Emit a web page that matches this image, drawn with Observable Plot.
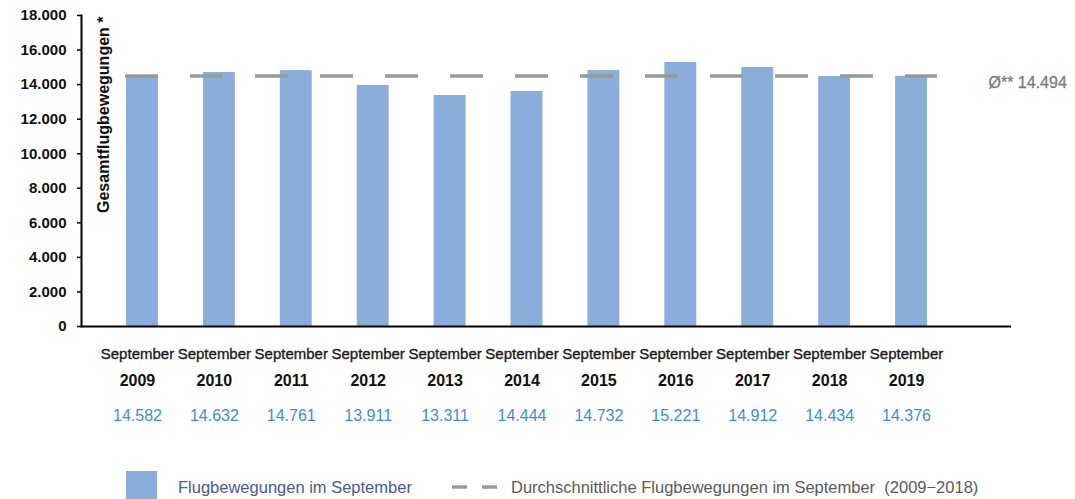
<!DOCTYPE html>
<html>
<head>
<meta charset="utf-8">
<script src="https://cdn.jsdelivr.net/npm/d3@7"></script>
<script src="https://cdn.jsdelivr.net/npm/@observablehq/plot@0.6"></script>
<style>
  html, body { margin: 0; padding: 0; background: #fff; }
  #chart { position: relative; width: 1075px; height: 499px; font-family: "Liberation Sans", Arial, sans-serif; }
  .legend { position: absolute; left: 0; top: 460px; width: 1075px; height: 39px; }
  .legend span { position: absolute; font-size: 16.5px; line-height: 20px; white-space: pre; }
</style>
</head>
<body>
<div id="chart">
  <div id="plot"></div>
  <div class="legend">
    <div style="position:absolute;left:126px;top:11px;width:31px;height:28px;background:#8badda"></div>
    <span id="barLegend" style="left:178px;top:17px;color:#4a5a8c"></span>
    <svg style="position:absolute;left:452px;top:25px" width="46" height="4">
      <line x1="0" x2="15" y1="2" y2="2" stroke="#959c98" stroke-width="3.5"></line>
      <line x1="30" x2="45" y1="2" y2="2" stroke="#959c98" stroke-width="3.5"></line>
    </svg>
    <span id="avgLegend" style="left:511px;top:17px;color:#5a5a5a"></span>
  </div>
</div>
<script>
const years = ["2009", "2010", "2011", "2012", "2013", "2014", "2015", "2016", "2017", "2018", "2019"];
const barValues = [14470, 14700, 14810, 13950, 13370, 13600, 14810, 15280, 14990, 14470, 14480];
const valueLabels = ["14.582", "14.632", "14.761", "13.911", "13.311", "14.444", "14.732", "15.221", "14.912", "14.434", "14.376"];
const monthLabel = "September";
const average = 14494;
const averageLabel = "Ø** 14.494";
const yTicks = [0, 2000, 4000, 6000, 8000, 10000, 12000, 14000, 16000, 18000];
const yTitle = "Gesamtflugbewegungen *";
const legendBars = "Flugbewegungen im September";
const legendAvg = "Durchschnittliche Flugbewegungen im September  (2009\u22122018)";

document.getElementById("barLegend").textContent = legendBars;
document.getElementById("avgLegend").textContent = legendAvg;

const data = years.map((year, i) => ({year, value: barValues[i], label: valueLabels[i]}));
const de = d3.formatLocale({decimal: ",", thousands: ".", grouping: [3], currency: ["", "€"]});
const fmt = de.format(",");

const chart = Plot.plot({
  width: 1075,
  height: 460,
  marginTop: 15,
  marginBottom: 134,
  marginLeft: 81,
  marginRight: 64,
  style: {fontFamily: '"Liberation Sans", Arial, sans-serif', background: "#fff"},
  x: {domain: years, range: [126, 927], paddingInner: 0.585, paddingOuter: 0, round: false, axis: null},
  y: {domain: [0, 18000], axis: null, label: null},
  marks: [
    Plot.barY(data, {x: "year", y: "value", fill: "#8badda"}),
    Plot.ruleY([average], {stroke: "#959c98", strokeWidth: 3.5, strokeDasharray: "33,32", insetLeft: 44, insetRight: 74}),
    Plot.axisY({ticks: yTicks, tickFormat: fmt, label: null, tickSize: 4, tickPadding: 11, fontSize: 15, fontWeight: "bold", fill: "#111", stroke: "#000", strokeWidth: 1.5, ariaLabel: "yaxis"}),
    Plot.frame({anchor: "left", stroke: "#000", strokeWidth: 2}),
    Plot.ruleY([0], {stroke: "#000", strokeWidth: 2}),
    Plot.text(data, {x: "year", text: () => monthLabel, frameAnchor: "bottom", dy: 32, dx: -5, fontSize: 15, fill: "#1a1a1a", stroke: "#1a1a1a", strokeWidth: 0.35, ariaLabel: "month-labels"}),
    Plot.text(data, {x: "year", text: "year", frameAnchor: "bottom", dy: 59, dx: -5, fontSize: 16, fontWeight: "bold", fill: "#111", ariaLabel: "year-labels"}),
    Plot.text(data, {x: "year", text: "label", frameAnchor: "bottom", dy: 94, dx: -5, fontSize: 16, fill: "#3d8ed8", ariaLabel: "value-labels"}),
    Plot.text([averageLabel], {y: () => average, text: d => d, frameAnchor: "right", textAnchor: "start", dx: -23, dy: 6.5, fontSize: 16, fill: "#7a7a7a", stroke: "#7a7a7a", strokeWidth: 0.3, ariaLabel: "avg-label"}),
    Plot.text([yTitle], {frameAnchor: "top-left", rotate: -90, textAnchor: "end", lineAnchor: "bottom", dx: 27, dy: 1, fontSize: 16, fontWeight: "bold", fill: "#111"})
  ]
});

document.getElementById("plot").appendChild(chart);
const svg = d3.select(chart);
svg.selectAll('g[aria-label="yaxis"] text, g[aria-label="y-axis tick label"] text').style("letter-spacing", "1px");
svg.selectAll('g[aria-label="year-labels"] text').style("letter-spacing", "0.6px");
svg.selectAll('g[aria-label="value-labels"] text').style("letter-spacing", "0.3px");
svg.selectAll('g[aria-label="avg-label"] text').style("letter-spacing", "0.8px");
</script>
</body>
</html>
